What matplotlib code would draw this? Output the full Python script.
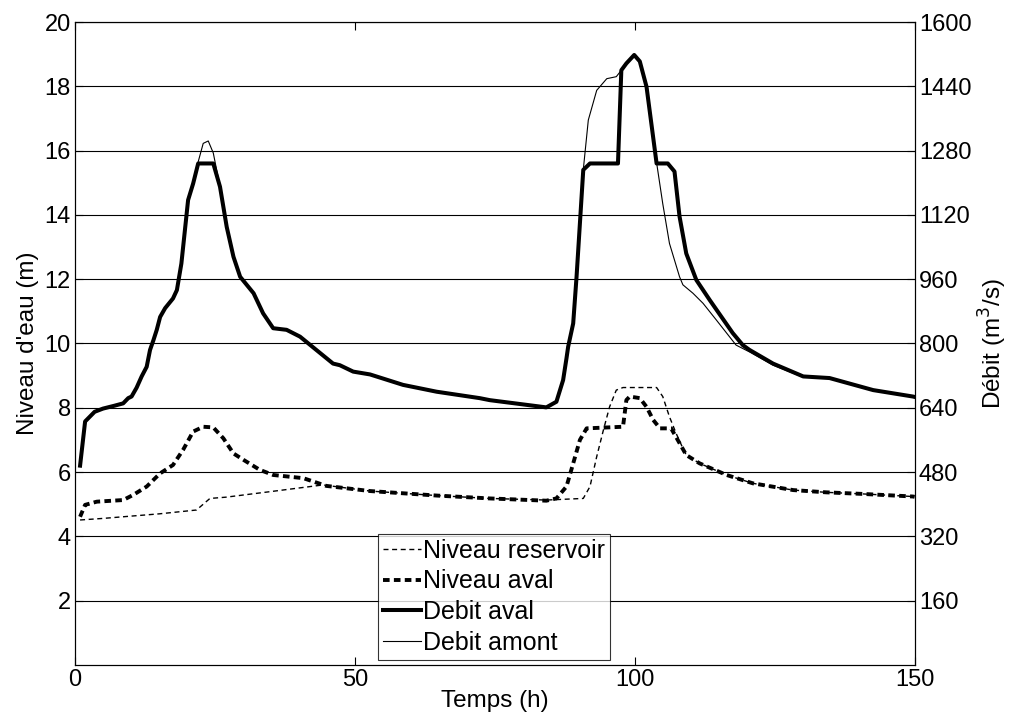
import numpy as np
import matplotlib.pyplot as plt

plt.rcParams['font.family'] = ['Liberation Sans', 'DejaVu Sans']

# Debit aval (m3/s)
t_qav = [0.9, 1.8, 3.5, 5.0, 7.0, 8.6, 9.5, 10.1, 11.0, 11.9, 12.8, 13.4, 14.0, 14.6,
         15.2, 16.1, 17.5, 18.2, 19.0, 20.2, 21.1, 22.0, 24.7, 25.9, 27.1, 28.3, 29.5,
         31.9, 33.6, 35.4, 37.8, 40.2, 43.1, 46.1, 47.3, 49.7, 52.7, 58.6, 64.6, 72.3,
         74.1, 84.2, 86.0, 87.2, 87.8, 88.1, 89.0, 89.6, 90.8, 92.0, 97.0, 97.6, 98.5,
         99.9, 100.9, 102.1, 103.9, 105.9, 107.1, 108.0, 109.2, 111.0, 113.4, 117.5,
         119.3, 120.5, 124.7, 130.1, 134.8, 142.6, 149.7, 150.0]
q_aval = [496, 606, 630, 638, 645, 651, 664, 668, 690, 718, 742, 784, 808, 834,
          866, 888, 912, 933, 999, 1157, 1198, 1248, 1248, 1190, 1090, 1016, 966,
          925, 875, 838, 834, 817, 784, 750, 746, 730, 723, 697, 680, 664,
          659, 641, 655, 709, 763, 792, 850, 966, 1232, 1248, 1248, 1480, 1497,
          1518, 1502, 1439, 1248, 1248, 1228, 1116, 1024, 958, 908, 826,
          796, 784, 750, 718, 714, 684, 668, 667]

# Debit amont (m3/s)
t_qam = [0.9, 1.8, 3.5, 5.0, 7.0, 8.6, 9.5, 10.1, 11.0, 11.9, 12.8, 13.4, 14.0, 14.6,
         15.2, 16.1, 17.5, 18.2, 19.0, 20.2, 21.1, 22.0, 22.9, 23.8, 24.7, 25.9, 27.1,
         28.3, 29.5, 31.9, 33.6, 35.4, 37.8, 40.2, 43.1, 46.1, 47.3, 49.7, 52.7, 58.6,
         64.6, 72.3, 74.1, 84.2, 86.0, 87.2, 87.8, 88.1, 89.0, 89.6, 90.8, 91.7, 93.2,
         95.0, 96.7, 97.6, 98.5, 99.9, 100.9, 102.1, 103.9, 105.0, 106.2, 108.0, 108.6,
         110.4, 112.2, 114.6, 118.1, 120.5, 124.7, 130.1, 134.8, 142.6, 149.7, 150.0]
q_amont = [496, 606, 630, 638, 645, 651, 664, 668, 690, 718, 742, 784, 808, 834,
           866, 888, 912, 933, 999, 1157, 1198, 1252, 1298, 1304, 1274, 1190, 1090,
           1016, 966, 925, 875, 838, 834, 817, 784, 750, 746, 730, 723, 697,
           680, 664, 659, 641, 655, 709, 763, 792, 850, 966, 1232, 1356, 1430,
           1459, 1464, 1480, 1497, 1518, 1502, 1439, 1250, 1148, 1049, 966, 946,
           925, 900, 858, 796, 779, 746, 716, 714, 684, 668, 667]

# Niveau aval (m)
t_hav = [0.9, 1.8, 3.9, 8.6, 10.4, 12.8, 15.2, 17.5, 19.3, 21.1, 22.9, 24.7, 26.5,
         28.3, 30.1, 33.0, 35.4, 40.8, 44.9, 52.7, 64.6, 74.1, 84.2, 86.0, 87.8,
         89.0, 90.2, 91.4, 97.9, 98.5, 99.1, 100.9, 102.1, 103.3, 104.5, 106.5,
         108.0, 109.2, 111.6, 116.4, 121.1, 128.3, 134.2, 140.8, 149.7, 150.0]
h_aval = [4.61, 4.98, 5.08, 5.13, 5.29, 5.55, 5.96, 6.22, 6.69, 7.26, 7.41, 7.39, 7.05,
          6.58, 6.38, 6.07, 5.91, 5.81, 5.57, 5.41, 5.27, 5.18, 5.11, 5.18, 5.55,
          6.27, 7.0, 7.36, 7.41, 8.24, 8.35, 8.30, 8.03, 7.62, 7.36, 7.36,
          6.90, 6.53, 6.27, 5.91, 5.65, 5.44, 5.37, 5.32, 5.24, 5.23]

# Niveau reservoir (m)
t_hres = [0.9, 5.1, 10.0, 15.0, 21.7, 24.1, 27.0, 34.8, 44.3, 52.7, 64.6, 74.1, 84.2,
          90.8, 92.0, 93.2, 94.4, 95.5, 96.7, 97.9, 103.9, 105.0, 106.2, 107.4,
          108.6, 109.2, 111.6, 116.4, 121.1, 128.3, 134.2, 140.8, 149.7, 150.0]
h_res = [4.51, 4.56, 4.63, 4.70, 4.82, 5.18, 5.22, 5.39, 5.60, 5.41, 5.27, 5.18, 5.13,
         5.18, 5.55, 6.48, 7.31, 8.03, 8.55, 8.63, 8.63, 8.35, 7.72, 7.20,
         6.74, 6.53, 6.27, 5.91, 5.65, 5.44, 5.37, 5.32, 5.24, 5.23]

fig = plt.figure(figsize=(10.14, 7.22), dpi=100)
ax1 = fig.add_axes([0.074, 0.079, 0.828, 0.8905])
ax2 = ax1.twinx()

l1, = ax1.plot(t_hres, h_res, color='black', lw=1.0, dashes=(3.6, 2.6), label='Niveau reservoir')
l2, = ax1.plot(t_hav, h_aval, color='black', lw=2.8, dashes=(1.7, 1.1), label='Niveau aval')
l4, = ax2.plot(t_qam, q_amont, color='black', lw=0.8, label='Debit amont')
l3, = ax2.plot(t_qav, q_aval, color='black', lw=2.9, label='Debit aval')

ax1.set_xlim(0, 150)
ax1.set_ylim(0, 20)
ax2.set_ylim(0, 1600)
ax1.set_xticks([0, 50, 100, 150])
ax1.set_yticks(np.arange(2, 21, 2))
ax2.set_yticks(np.arange(160, 1601, 160))
ax1.yaxis.grid(True, color='black', lw=0.8)

ax1.tick_params(direction='in', length=6, labelsize=17, top=True, right=False, pad=3)
ax2.tick_params(direction='in', length=6, labelsize=17, pad=3)

ax1.set_xlabel('Temps (h)', fontsize=17.5, labelpad=-1)
ax1.set_ylabel("Niveau d'eau (m)", fontsize=17.5, labelpad=4)
ax2.set_ylabel('Débit (m$^3$/s)', fontsize=17.5, labelpad=4)

leg = ax2.legend(handles=[l1, l2, l3, l4], loc='lower left',
                 bbox_to_anchor=(0.361, 0.008), fontsize=18, frameon=True,
                 fancybox=False, edgecolor='black', handlelength=1.5,
                 handletextpad=0.1, borderpad=0.2, labelspacing=0.27,
                 borderaxespad=0)
leg.get_frame().set_linewidth(0.8)

fig.savefig('out.png', dpi=100)
